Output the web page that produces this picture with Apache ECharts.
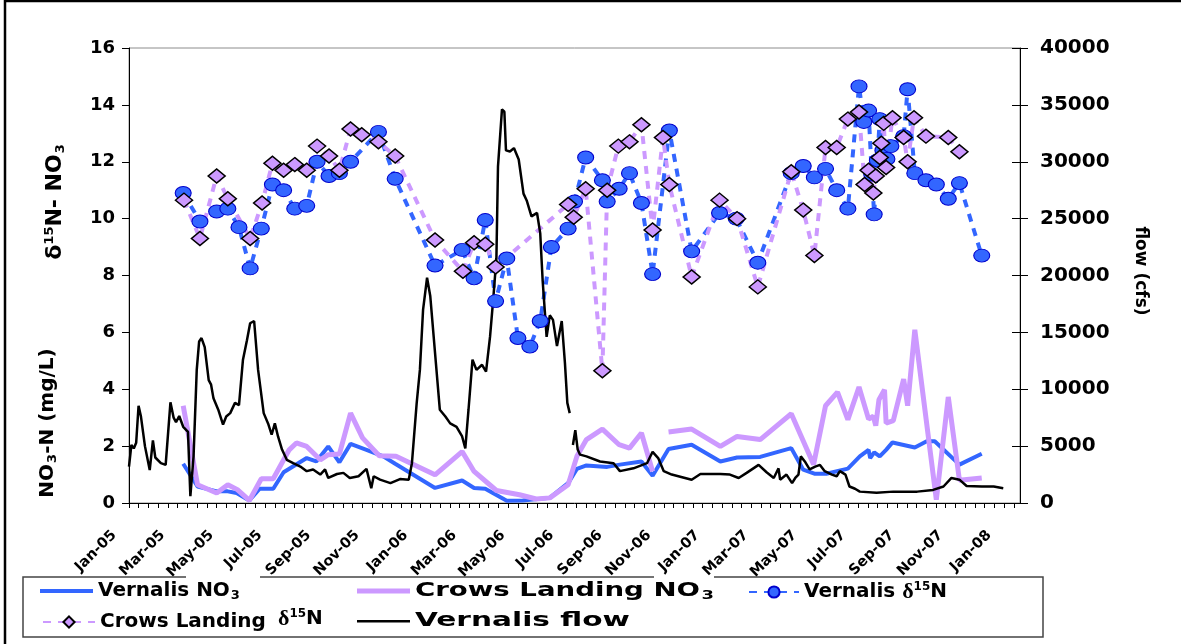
<!DOCTYPE html>
<html>
<head>
<meta charset="utf-8">
<script src="https://cdn.jsdelivr.net/npm/echarts@6/dist/echarts.min.js"></script>
<style>
  html, body { margin: 0; padding: 0; background: #fff; }
  #chart { width: 1181px; height: 644px; }
</style>
</head>
<body>
<div id="chart"></div>
<script>
// ---- Data (San Joaquin River: Vernalis and Crows Landing) ----
// NO3-N concentration, mg/L
const vernalisNO3 = [
  ['2005-03-10',1.38],['2005-03-28',0.58],['2005-04-21',0.41],['2005-05-05',0.41],['2005-05-16',0.35],
  ['2005-06-01',0.09],['2005-06-14',0.5],['2005-07-01',0.5],['2005-07-14',1.08],['2005-08-12',1.58],
  ['2005-08-24',1.46],['2005-09-08',1.99],['2005-09-22',1.43],['2005-10-06',2.08],['2005-10-26',1.87],
  ['2005-11-16',1.64],['2005-12-01',1.38],
  ['2006-01-20',0.53],['2006-02-23',0.79],['2006-03-10',0.53],['2006-03-24',0.5],['2006-04-20',0.08],
  ['2006-05-10',0.09],['2006-06-13',0.18],['2006-07-06',0.7],['2006-07-17',1.2],['2006-07-29',1.32],
  ['2006-08-24',1.27],['2006-09-09',1.35],['2006-10-06',1.46],['2006-10-20',0.96],['2006-11-09',1.9],
  ['2006-12-08',2.05],
  ['2007-01-13',1.46],['2007-02-03',1.6],['2007-03-04',1.62],['2007-04-12',1.93],['2007-04-27',1.17],
  ['2007-05-11',1.03],['2007-05-26',1.03],['2007-06-22',1.21],['2007-07-07',1.64],['2007-07-18',1.87],
  ['2007-07-20',1.58],['2007-07-25',1.78],['2007-08-01',1.64],['2007-08-09',1.87],['2007-08-17',2.13],
  ['2007-09-14',1.95],['2007-09-29',2.17],['2007-10-09',2.17],['2007-11-09',1.35],['2007-12-07',1.73]
];

const crowsNO3 = [
  ['2005-03-10',3.42],['2005-03-28',0.64],['2005-04-21',0.35],['2005-05-05',0.64],['2005-05-17',0.47],
  ['2005-06-01',0.09],['2005-06-16',0.85],['2005-07-01',0.85],['2005-07-21',1.87],['2005-07-30',2.11],
  ['2005-08-12',1.99],['2005-08-29',1.52],['2005-09-08',1.7],['2005-09-22',1.72],['2005-10-06',3.16],
  ['2005-10-21',2.29],['2005-11-11',1.66],['2005-12-02',1.64],
  ['2006-01-20',0.99],['2006-02-23',1.81],['2006-03-10',1.11],['2006-04-07',0.44],['2006-05-06',0.29],
  ['2006-05-27',0.14],['2006-06-13',0.18],['2006-07-06',0.64],['2006-07-17',1.64],['2006-07-29',2.23],
  ['2006-08-18',2.6],['2006-09-08',2.05],['2006-09-21',1.93],['2006-10-06',2.46],['2006-10-20',1.11],
  ['2006-10-30',null],
  ['2006-11-09',2.5],['2006-12-08',2.6],
  ['2007-01-13',1.99],['2007-02-03',2.34],['2007-03-04',2.23],['2007-04-12',3.14],['2007-05-10',1.35],
  ['2007-05-25',3.42],['2007-06-09',3.9],['2007-06-22',2.93],['2007-07-06',4.08],['2007-07-18',2.95],
  ['2007-07-24',3.05],['2007-07-27',2.72],['2007-07-31',3.63],['2007-08-07',3.98],['2007-08-09',2.81],
  ['2007-08-18',2.9],['2007-08-31',4.36],['2007-09-05',3.42],['2007-09-14',6.09],['2007-10-11',0.12],
  ['2007-10-26',3.73],['2007-11-09',0.8],['2007-12-07',0.88]
];

// delta 15N of nitrate, per mil
const vernalisD15N = [
  ['2005-03-10',10.9],['2005-03-31',9.9],['2005-04-21',10.25],['2005-05-05',10.35],['2005-05-19',9.7],
  ['2005-06-02',8.25],['2005-06-16',9.65],['2005-06-30',11.2],['2005-07-14',11.0],['2005-07-28',10.35],
  ['2005-08-12',10.45],['2005-08-25',12.0],['2005-09-09',11.5],['2005-09-22',11.6],['2005-10-06',12.0],
  ['2005-11-10',13.05],['2005-12-01',11.4],
  ['2006-01-20',8.35],['2006-02-23',8.9],['2006-03-10',7.9],['2006-03-24',9.95],['2006-04-06',7.1],
  ['2006-04-20',8.6],['2006-05-04',5.8],['2006-05-19',5.5],['2006-06-01',6.4],['2006-06-15',9.0],
  ['2006-07-06',9.65],['2006-07-14',10.6],['2006-07-28',12.15],['2006-08-18',11.35],['2006-08-24',10.6],
  ['2006-09-08',11.05],['2006-09-21',11.6],['2006-10-06',10.55],['2006-10-20',8.05],['2006-11-10',13.1],
  ['2006-12-08',8.85],
  ['2007-01-12',10.2],['2007-02-02',10.0],['2007-03-01',8.45],['2007-04-12',11.6],['2007-04-27',11.85],
  ['2007-05-11',11.45],['2007-05-25',11.75],['2007-06-08',11.0],['2007-06-22',10.35],['2007-07-06',14.65],
  ['2007-07-12',13.4],['2007-07-18',13.8],['2007-07-22',11.55],['2007-07-25',10.15],['2007-07-29',12.05],
  ['2007-08-01',13.5],['2007-08-05',12.4],['2007-08-10',12.1],['2007-08-15',12.55],['2007-08-31',12.9],
  ['2007-09-05',14.55],['2007-09-14',11.6],['2007-09-28',11.35],['2007-10-11',11.2],['2007-10-26',10.7],
  ['2007-11-09',11.25],['2007-12-07',8.7]
];

const crowsD15N = [
  ['2005-03-11',10.65],['2005-03-31',9.3],['2005-04-21',11.5],['2005-05-05',10.7],['2005-06-02',9.3],
  ['2005-06-17',10.55],['2005-06-30',11.95],['2005-07-14',11.7],['2005-07-28',11.9],['2005-08-12',11.7],
  ['2005-08-25',12.55],['2005-09-09',12.2],['2005-09-22',11.7],['2005-10-06',13.15],['2005-10-20',12.95],
  ['2005-11-10',12.7],['2005-12-01',12.2],
  ['2006-01-20',9.25],['2006-02-24',8.15],['2006-03-10',9.15],['2006-03-24',9.1],['2006-04-06',8.3],
  ['2006-07-06',10.5],['2006-07-13',10.05],['2006-07-28',11.05],['2006-08-18',4.65],['2006-08-24',11.0],
  ['2006-09-07',12.55],['2006-09-21',12.7],['2006-10-06',13.3],['2006-10-20',9.6],['2006-11-02',12.85],
  ['2006-11-10',11.2],['2006-12-08',7.95],
  ['2007-01-12',10.65],['2007-02-03',10.0],['2007-03-01',7.6],['2007-04-12',11.65],['2007-04-27',10.3],
  ['2007-05-11',8.7],['2007-05-25',12.5],['2007-06-08',12.5],['2007-06-22',13.5],['2007-07-06',13.75],
  ['2007-07-13',11.2],['2007-07-18',11.7],['2007-07-24',10.9],['2007-07-27',11.5],['2007-08-01',12.15],
  ['2007-08-03',12.65],['2007-08-06',13.35],['2007-08-09',11.8],['2007-08-17',13.55],['2007-08-31',12.85],
  ['2007-09-05',12.0],['2007-09-13',13.55],['2007-09-28',12.9],['2007-10-26',12.85],['2007-11-09',12.35]
];

// Vernalis daily flow, cfs (null = missing record)
const vernalisFlow = [
  ['2005-01-01',3200],['2005-01-04',5100],['2005-01-07',4800],['2005-01-10',5300],['2005-01-13',8550],
  ['2005-01-16',7600],['2005-01-21',5000],['2005-01-27',2900],['2005-01-31',5500],['2005-02-03',4000],
  ['2005-02-10',3500],['2005-02-16',3350],['2005-02-22',8850],['2005-02-26',7500],['2005-03-01',7100],
  ['2005-03-05',7650],['2005-03-10',6700],['2005-03-16',6250],['2005-03-19',600],['2005-03-23',4100],
  ['2005-03-27',11700],['2005-03-30',14200],['2005-04-02',14500],['2005-04-06',13700],['2005-04-11',10800],
  ['2005-04-14',10400],['2005-04-17',9200],['2005-04-23',8200],['2005-04-29',6900],['2005-05-03',7600],
  ['2005-05-08',7900],['2005-05-14',8800],['2005-05-19',8600],['2005-05-24',12600],['2005-05-29',14300],
  ['2005-06-02',15800],['2005-06-07',16000],['2005-06-12',11700],['2005-06-19',7900],['2005-06-25',6900],
  ['2005-06-29',6000],['2005-07-03',7000],['2005-07-07',5850],['2005-07-12',4700],['2005-07-18',3800],
  ['2005-07-26',3500],['2005-08-04',3200],['2005-08-12',2800],['2005-08-20',2950],['2005-08-29',2500],
  ['2005-09-04',2950],['2005-09-08',2200],['2005-09-19',2550],['2005-09-27',2650],['2005-10-05',2200],
  ['2005-10-16',2350],['2005-10-26',3000],['2005-11-01',1300],['2005-11-04',2350],['2005-11-12',2050],
  ['2005-11-25',1750],['2005-12-07',2100],['2005-12-18',2050],['2005-12-22',3500],['2005-12-28',8800],
  ['2006-01-01',11700],['2006-01-05',17000],['2006-01-10',19800],['2006-01-14',18200],['2006-01-20',13200],
  ['2006-01-26',8200],['2006-02-02',7600],['2006-02-08',7000],['2006-02-16',6700],['2006-02-23',5850],
  ['2006-02-27',4800],['2006-03-03',8200],['2006-03-08',12600],['2006-03-13',11700],['2006-03-20',12150],
  ['2006-03-25',11550],['2006-03-30',14600],['2006-04-03',17900],['2006-04-07',21500],['2006-04-09',29600],
  ['2006-04-14',34600],['2006-04-17',34400],['2006-04-19',31000],['2006-04-24',30900],['2006-04-29',31200],
  ['2006-05-05',30200],['2006-05-11',27200],['2006-05-15',26600],['2006-05-21',25200],['2006-05-28',25500],
  ['2006-06-01',23700],['2006-06-04',19600],['2006-06-09',14600],['2006-06-13',16500],['2006-06-17',16100],
  ['2006-06-22',13800],['2006-06-28',16000],['2006-07-02',12300],['2006-07-05',8800],['2006-07-08',7900],
  ['2006-07-10',null],
  ['2006-07-12',5100],['2006-07-15',6400],['2006-07-18',4700],['2006-07-21',4250],['2006-07-29',4100],
  ['2006-08-15',3650],['2006-09-01',3500],['2006-09-09',2800],['2006-09-26',3050],['2006-10-13',3500],
  ['2006-10-20',4500],['2006-10-27',3950],['2006-11-03',2800],['2006-11-13',2500],['2006-12-08',2050],
  ['2006-12-19',2550],
  ['2007-01-13',2550],['2007-01-25',2500],['2007-02-05',2200],['2007-02-15',2650],['2007-03-02',3350],
  ['2007-03-12',2700],['2007-03-21',2200],['2007-03-27',3050],['2007-03-29',2050],['2007-04-06',2500],
  ['2007-04-13',1750],['2007-04-17',2200],['2007-04-21',2500],['2007-04-24',4100],['2007-04-29',3650],
  ['2007-05-05',2950],['2007-05-12',3200],['2007-05-18',3350],['2007-05-24',2800],['2007-06-02',2500],
  ['2007-06-08',2350],['2007-06-12',2800],['2007-06-19',2500],['2007-06-24',1450],['2007-07-01',1250],
  ['2007-07-07',1000],['2007-07-28',900],['2007-08-18',1000],['2007-09-17',1000],['2007-10-07',1150],
  ['2007-10-20',1450],['2007-10-30',2200],['2007-11-09',2050],['2007-11-18',1500],['2007-12-07',1450],
  ['2007-12-22',1450],['2008-01-03',1300]
];

// Axis settings: time measured in days from 1 Jan 2005
const monthAbbr = ['Jan','Feb','Mar','Apr','May','Jun','Jul','Aug','Sep','Oct','Nov','Dec'];
const X_END_DAY = 1118;          // right edge of the date axis
const MAJOR_STEP_DAYS = 61;      // one labelled step (about two months)
const MINOR_PER_MAJOR = 5;       // tick marks per labelled step
const leftTicks = { min: 0, max: 16, step: 2 };
const rightTicks = { min: 0, max: 40000, step: 5000 };

// ---- helpers ----
const EPOCH = Date.UTC(2005, 0, 1);
const DAY_MS = 86400000;
function dayOf(s) {
  const [y, m, d] = s.split('-').map(Number);
  return (Date.UTC(y, m - 1, d) - EPOCH) / DAY_MS;
}
const toPoints = arr => arr.map(([d, v]) => [dayOf(d), v == null ? '-' : v]);
const TICK_STEP = MAJOR_STEP_DAYS / MINOR_PER_MAJOR;
function dateLabel(v) {
  const k = Math.round(v / TICK_STEP);
  if (Math.abs(v - k * TICK_STEP) > 0.01 || k % MINOR_PER_MAJOR !== 0) return '';
  const dt = new Date(EPOCH + k * TICK_STEP * DAY_MS);
  return monthAbbr[dt.getUTCMonth()] + '-' + String(dt.getUTCFullYear() % 100).padStart(2, '0');
}

const BLUE = '#3366FF';
const LILAC = '#CC99FF';
const SANS = 'DejaVu Sans';

const baseFont = { fontFamily: SANS, fontWeight: 'bold', color: '#000' };
const legendRich = {
  t: { ...baseFont, fontSize: 20 },
  s: { ...baseFont, fontSize: 13, padding: [10, 0, 0, 1] },
  g: { fontFamily: 'Liberation Serif', fontWeight: 'bold', fontSize: 22, color: '#000' },
  p: { ...baseFont, fontSize: 12, padding: [0, 0, 10, 0] }
};
// the middle column's captions are drawn as wide graphic text below, so their legend text is blank
const legendText = {
  'Vernalis NO3': '{t|Vernalis NO}{s|3}',
  'Crows Landing NO3': '',
  'Vernalis δ15N': '{t|Vernalis }{g|δ}{p|15}{t|N}',
  'Crows Landing δ15N': '{t|Crows Landing}',
  'Vernalis flow': ''
};
// lineIcon: thickness of a plain line key; 0 keeps the series' own line-and-marker key
function legendAt(name, left, top, itemWidth, lineIcon) {
  return {
    show: true, left, top, padding: 0, itemGap: 0,
    data: [lineIcon ? { name, icon: 'rect' } : name],
    itemWidth, itemHeight: lineIcon || 14, selectedMode: false,
    textStyle: { ...baseFont, fontSize: 20, rich: legendRich },
    formatter: n => legendText[n]
  };
}
const graphicRich = {
  t: { fontFamily: SANS, fontWeight: 'bold', fontSize: 20, fill: '#000' },
  s: { fontFamily: SANS, fontWeight: 'bold', fontSize: 13, fill: '#000', padding: [10, 0, 0, 1] }
};

const chart = echarts.init(document.getElementById('chart'), null, { renderer: 'canvas' });

chart.setOption({
  animation: false,
  backgroundColor: '#fff',
  grid: {
    left: 129, right: 161, top: 48, bottom: 141,
    show: true, borderColor: '#8c8c8c', borderWidth: 1, backgroundColor: 'transparent'
  },
  xAxis: {
    type: 'value', min: 0, max: X_END_DAY, interval: TICK_STEP,
    axisLine: { show: true, onZero: false, lineStyle: { color: '#000', width: 1 } },
    axisTick: { show: true, length: 5, lineStyle: { color: '#000', width: 1 } },
    splitLine: { show: false },
    axisLabel: {
      rotate: 45, margin: 15, padding: [0, 21, 0, 0],
      fontFamily: SANS, fontWeight: 'bold', fontSize: 14.5, color: '#000',
      showMaxLabel: false, formatter: dateLabel
    }
  },
  yAxis: [
    {
      type: 'value', position: 'left', min: leftTicks.min, max: leftTicks.max, interval: leftTicks.step,
      axisLine: { show: true, lineStyle: { color: '#000', width: 1 } },
      axisTick: { show: true, length: 7, lineStyle: { color: '#000' } },
      splitLine: { show: false },
      axisLabel: { margin: 14, fontFamily: SANS, fontWeight: 'bold', fontSize: 18, color: '#000' }
    },
    {
      type: 'value', position: 'right', min: rightTicks.min, max: rightTicks.max, interval: rightTicks.step,
      axisLine: { show: true, lineStyle: { color: '#000', width: 1 } },
      axisTick: { show: true, length: 8, lineStyle: { color: '#000' } },
      splitLine: { show: false },
      axisLabel: { margin: 20, fontFamily: SANS, fontWeight: 'bold', fontSize: 20, color: '#000',
        formatter: v => String(v) }
    },
    {
      // inner half of the crossing ticks on the flow axis
      type: 'value', position: 'right', offset: 0, min: rightTicks.min, max: rightTicks.max, interval: rightTicks.step,
      axisLine: { show: false },
      axisTick: { show: true, inside: true, length: 8, lineStyle: { color: '#000' } },
      splitLine: { show: false },
      axisLabel: { show: false }
    }
  ],
  legend: [
    legendAt('Vernalis NO3', 40, 581, 53, 4),
    legendAt('Crows Landing NO3', 357, 588.5, 53, 5),
    legendAt('Vernalis δ15N', 748, 581, 50, 0),
    legendAt('Crows Landing δ15N', 42, 612, 52, 0),
    legendAt('Vernalis flow', 357, 620, 53, 2.5)
  ],
  series: [
    {
      name: 'Vernalis NO3', type: 'line', yAxisIndex: 0, data: toPoints(vernalisNO3),
      showSymbol: false, symbol: 'none', connectNulls: false,
      lineStyle: { color: BLUE, width: 4 }, itemStyle: { color: BLUE }
    },
    {
      name: 'Crows Landing NO3', type: 'line', yAxisIndex: 0, data: toPoints(crowsNO3),
      showSymbol: false, symbol: 'none', connectNulls: false,
      lineStyle: { color: LILAC, width: 5 }, itemStyle: { color: LILAC }
    },
    {
      name: 'Vernalis δ15N', type: 'line', yAxisIndex: 0, data: toPoints(vernalisD15N),
      symbol: 'circle', symbolSize: [16, 13], showSymbol: true,
      lineStyle: { color: BLUE, width: 4, type: [8, 7] },
      itemStyle: { color: BLUE, borderColor: '#0000CC', borderWidth: 1 }
    },
    {
      name: 'Crows Landing δ15N', type: 'line', yAxisIndex: 0, data: toPoints(crowsD15N),
      symbol: 'diamond', symbolSize: [17, 14], showSymbol: true,
      lineStyle: { color: LILAC, width: 4, type: [8, 7] },
      itemStyle: { color: LILAC, borderColor: '#000', borderWidth: 1.5 }
    },
    {
      name: 'Vernalis flow', type: 'line', yAxisIndex: 1, data: toPoints(vernalisFlow),
      showSymbol: false, symbol: 'none', connectNulls: false,
      lineStyle: { color: '#000', width: 2.5 }, itemStyle: { color: '#000' }
    }
  ],
  graphic: [
    // frame round the figure
    { type: 'rect', silent: true, z: 100,
      shape: { x: 5, y: 1, width: 1400, height: 900 },
      style: { fill: 'none', stroke: '#000', lineWidth: 2.5 } },
    // legend box (top edge broken where the date labels sit)
    { type: 'polyline', silent: true,
      shape: { points: [[186, 577], [23, 577], [23, 637], [1043, 637], [1043, 577], [714, 577]] },
      style: { fill: 'none', stroke: '#444', lineWidth: 1.5 } },
    { type: 'line', silent: true,
      shape: { x1: 260, y1: 577, x2: 654, y2: 577 },
      style: { stroke: '#444', lineWidth: 1.5 } },
    // middle-column legend captions, set wide
    { type: 'text', silent: true, x: 415, y: 591, scaleX: 1.38,
      style: { text: '{t|Crows Landing NO}{s|3}', align: 'left', verticalAlign: 'middle', rich: graphicRich } },
    { type: 'text', silent: true, x: 415, y: 621, scaleX: 1.48,
      style: { text: '{t|Vernalis flow}', align: 'left', verticalAlign: 'middle', rich: graphicRich } },
    // second part of the Crows Landing delta-15N legend entry
    { type: 'text', silent: true, x: 278, y: 619,
      style: { text: '{g|δ}{p|15}{t|N}', align: 'left', verticalAlign: 'middle',
        rich: {
          g: { fontFamily: 'Liberation Serif', fontWeight: 'bold', fontSize: 22, fill: '#000' },
          p: { fontFamily: SANS, fontWeight: 'bold', fontSize: 12, fill: '#000', padding: [0, 0, 10, 0] },
          t: { fontFamily: SANS, fontWeight: 'bold', fontSize: 20, fill: '#000' }
        } } },
    // left axis titles
    { type: 'text', silent: true, x: 55, y: 202, rotation: Math.PI / 2,
      style: { text: '{g|δ}{p|15}{t|N- NO}{s|3}', align: 'center', verticalAlign: 'middle',
        rich: {
          g: { fontFamily: SANS, fontWeight: 'bold', fontSize: 22, fill: '#000' },
          p: { fontFamily: SANS, fontWeight: 'bold', fontSize: 13, fill: '#000', padding: [0, 0, 11, 0] },
          t: { fontFamily: SANS, fontWeight: 'bold', fontSize: 22, fill: '#000' },
          s: { fontFamily: SANS, fontWeight: 'bold', fontSize: 13, fill: '#000', padding: [11, 0, 0, 1] }
        } } },
    { type: 'text', silent: true, x: 48, y: 423, rotation: Math.PI / 2,
      style: { text: '{t|NO}{s|3}{t|-N (mg/L)}', align: 'center', verticalAlign: 'middle',
        rich: {
          t: { fontFamily: SANS, fontWeight: 'bold', fontSize: 20, fill: '#000' },
          s: { fontFamily: SANS, fontWeight: 'bold', fontSize: 13, fill: '#000', padding: [10, 0, 0, 1] }
        } } },
    // right axis title
    { type: 'text', silent: true, x: 1140, y: 271, rotation: -Math.PI / 2,
      style: { text: 'flow (cfs)', align: 'center', verticalAlign: 'middle',
        fontFamily: SANS, fontWeight: 'bold', fontSize: 17, fill: '#000' } }
  ]
});
</script>
</body>
</html>
